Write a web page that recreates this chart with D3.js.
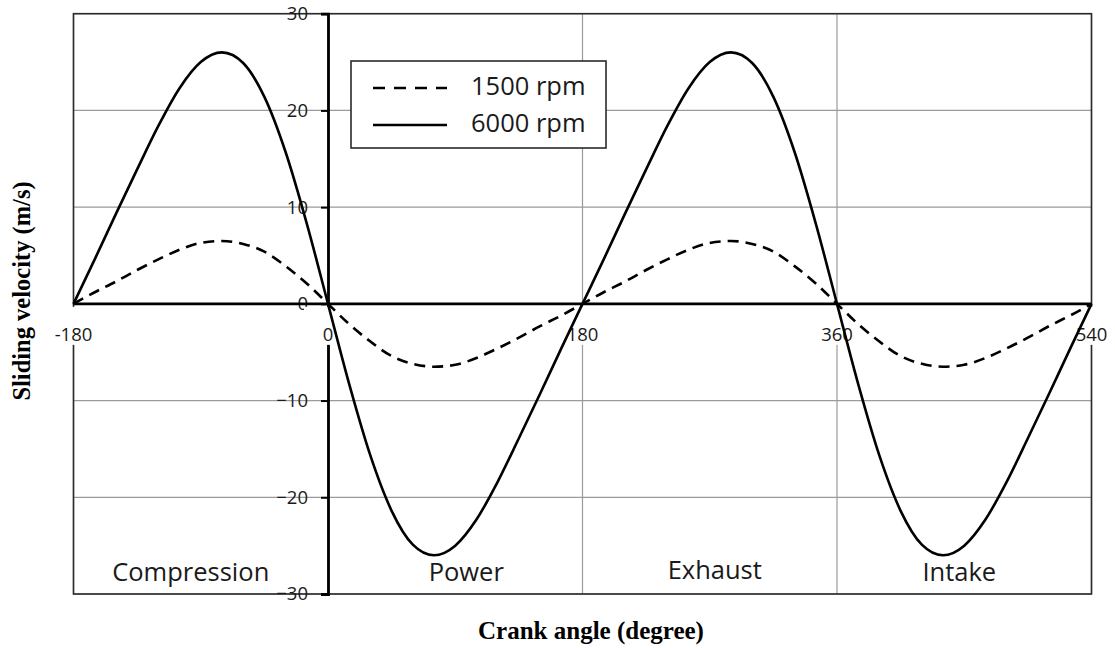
<!DOCTYPE html>
<html>
<head>
<meta charset="utf-8">
<script src="https://cdn.jsdelivr.net/npm/d3@7"></script>
<style>
  body { margin: 0; background: #fff; }
  svg { display: block; }
</style>
</head>
<body>
<script>
// crank angle (degree), one point every 15 deg
var angles = [-180, -165, -150, -135, -120, -105, -90, -75, -60, -45, -30, -15,
              0, 15, 30, 45, 60, 75, 90, 105, 120, 135, 150, 165,
              180, 195, 210, 225, 240, 255, 270, 285, 300, 315, 330, 345,
              360, 375, 390, 405, 420, 435, 450, 465, 480, 495, 510, 525, 540];

// sliding velocity (m/s)
var rpm1500 = [0, 1.2, 2.3, 3.5, 4.6, 5.6, 6.3, 6.5, 6.2, 5.4, 3.9, 2.1,
               0, -2.1, -3.9, -5.4, -6.2, -6.5, -6.3, -5.6, -4.6, -3.5, -2.3, -1.2,
               0, 1.2, 2.3, 3.5, 4.6, 5.6, 6.3, 6.5, 6.2, 5.4, 3.9, 2.1,
               0, -2.1, -3.9, -5.4, -6.2, -6.5, -6.3, -5.6, -4.6, -3.5, -2.3, -1.2, 0];

var rpm6000 = [0, 4.6, 9.3, 13.9, 18.4, 22.3, 25.0, 26.0, 24.9, 21.4, 15.7, 8.3,
               0, -8.3, -15.7, -21.4, -24.9, -26.0, -25.0, -22.3, -18.4, -13.9, -9.3, -4.6,
               0, 4.6, 9.3, 13.9, 18.4, 22.3, 25.0, 26.0, 24.9, 21.4, 15.7, 8.3,
               0, -8.3, -15.7, -21.4, -24.9, -26.0, -25.0, -22.3, -18.4, -13.9, -9.3, -4.6, 0];

var xTicks = [-180, 0, 180, 360, 540];
var yTicks = [-30, -20, -10, 0, 10, 20, 30];
var strokes = ['Compression', 'Power', 'Exhaust', 'Intake'];
var seriesNames = ['1500 rpm', '6000 rpm'];

var w = 1115;
var h = 648;

var x = d3.scaleLinear().domain([-180, 540]).range([73.5, 1091.5]);
var y = d3.scaleLinear().domain([-30, 30]).range([594, 13.7]);

var svg = d3.select('body')
            .append('svg')
            .attr('width', w)
            .attr('height', h);

svg.append('rect')
   .attr('width', w)
   .attr('height', h)
   .attr('fill', 'white');

var tickFont = '"Open Sans", sans-serif';
var titleFont = '"Liberation Serif", "Times New Roman", serif';

// grid
svg.append('g')
   .selectAll('line')
   .data(yTicks)
   .enter()
   .append('line')
   .attr('x1', x(-180)).attr('x2', x(540))
   .attr('y1', function(d){ return y(d); })
   .attr('y2', function(d){ return y(d); })
   .attr('stroke', '#9a9a9a')
   .attr('stroke-width', 1.2);

svg.append('g')
   .selectAll('line')
   .data(xTicks)
   .enter()
   .append('line')
   .attr('x1', function(d){ return x(d); })
   .attr('x2', function(d){ return x(d); })
   .attr('y1', y(30)).attr('y2', y(-30))
   .attr('stroke', '#9a9a9a')
   .attr('stroke-width', 1.2);

// plot frame
svg.append('rect')
   .attr('x', x(-180))
   .attr('y', y(30))
   .attr('width', x(540) - x(-180))
   .attr('height', y(-30) - y(30))
   .attr('fill', 'none')
   .attr('stroke', '#2a2a2a')
   .attr('stroke-width', 1.6);

// y axis through 0 deg, x axis through 0 m/s
var yAxis = d3.axisLeft(y).tickValues(yTicks).tickSize(7).tickPadding(13);
var gy = svg.append('g')
            .attr('transform', 'translate(' + x(0) + ',0)')
            .call(yAxis);
gy.select('.domain').attr('stroke', '#000').attr('stroke-width', 2.8);
gy.selectAll('.tick line').attr('stroke', '#000').attr('stroke-width', 2);
gy.selectAll('.tick text')
  .attr('font-family', tickFont)
  .attr('font-size', 18.5)
  .attr('fill', '#1a1a1a');

svg.append('line')
   .attr('x1', x(-180)).attr('x2', x(540))
   .attr('y1', y(0)).attr('y2', y(0))
   .attr('stroke', '#000')
   .attr('stroke-width', 2.8);

// white boxes behind x tick labels, then the labels
var xl = svg.append('g')
            .selectAll('g')
            .data(xTicks)
            .enter()
            .append('g')
            .attr('transform', function(d){ return 'translate(' + x(d) + ',' + (y(0) + 2) + ')'; });
xl.append('rect')
  .attr('x', -24).attr('width', 48)
  .attr('y', 1).attr('height', 38)
  .attr('fill', 'white');
xl.append('text')
  .attr('y', 35)
  .attr('text-anchor', 'middle')
  .attr('font-family', tickFont)
  .attr('font-size', 18.5)
  .attr('fill', '#1a1a1a')
  .text(function(d){ return d; });

// curves
var speedLine = d3.line()
  .x(function(d, i){ return x(angles[i]); })
  .y(function(d){ return y(d); })
  .curve(d3.curveMonotoneX);

svg.append('path')
   .datum(rpm1500)
   .attr('d', speedLine)
   .attr('fill', 'none')
   .attr('stroke', '#000')
   .attr('stroke-width', 2.6)
   .attr('stroke-dasharray', '11,7');

svg.append('path')
   .datum(rpm6000)
   .attr('d', speedLine)
   .attr('fill', 'none')
   .attr('stroke', '#000')
   .attr('stroke-width', 2.6);

// stroke names, near the bottom of each 180 deg span
var labelDx = [-10, 11, 5, -5];
svg.append('g')
   .selectAll('text')
   .data(strokes)
   .enter()
   .append('text')
   .attr('x', function(d, i){ return x(-90 + i*180) + labelDx[i]; })
   .attr('y', function(d, i){ return i == 2 ? 579 : 581; })
   .attr('text-anchor', 'middle')
   .attr('font-family', tickFont)
   .attr('font-size', 25.5)
   .attr('fill', '#1a1a1a')
   .text(function(d){ return d; });

// legend
var legend = svg.append('g');
legend.append('rect')
      .attr('x', 351).attr('y', 61)
      .attr('width', 255).attr('height', 87)
      .attr('fill', 'white')
      .attr('stroke', '#2a2a2a')
      .attr('stroke-width', 1.6);

var li = legend.selectAll('g')
               .data(seriesNames)
               .enter()
               .append('g')
               .attr('transform', function(d, i){ return 'translate(0,' + (88 + i*37) + ')'; });
li.append('line')
  .attr('x1', 373).attr('x2', 447)
  .attr('y1', 0).attr('y2', 0)
  .attr('stroke', '#000')
  .attr('stroke-width', 2.6)
  .attr('stroke-dasharray', function(d, i){ return i == 0 ? '12,9' : null; });
li.append('text')
  .attr('x', 471)
  .attr('y', 7)
  .attr('font-family', tickFont)
  .attr('font-size', 25.5)
  .attr('fill', '#1a1a1a')
  .text(function(d){ return d; });

// axis titles
svg.append('text')
   .attr('x', 591)
   .attr('y', 639)
   .attr('text-anchor', 'middle')
   .attr('font-family', titleFont)
   .attr('font-weight', 'bold')
   .attr('font-size', 25)
   .text('Crank angle (degree)');

svg.append('text')
   .attr('transform', 'translate(30,291) rotate(-90)')
   .attr('text-anchor', 'middle')
   .attr('font-family', titleFont)
   .attr('font-weight', 'bold')
   .attr('font-size', 24.5)
   .text('Sliding velocity (m/s)');
</script>
</body>
</html>
